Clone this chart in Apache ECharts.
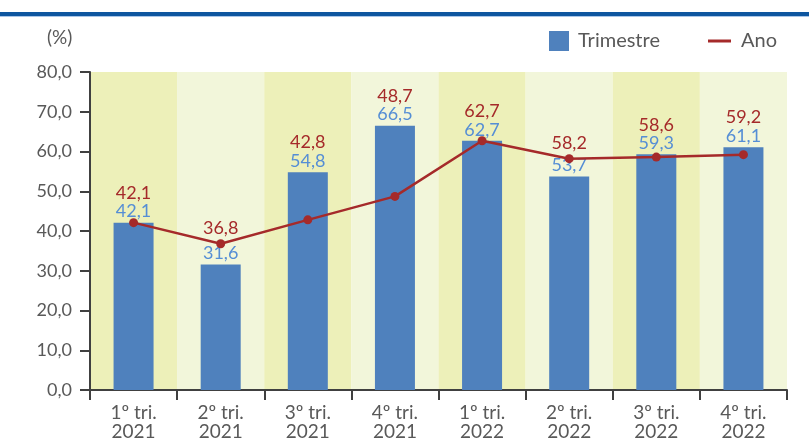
<!DOCTYPE html>
<html>
<head>
<meta charset="utf-8">
<script src="https://cdn.jsdelivr.net/npm/echarts@6/dist/echarts.min.js"></script>
<style>
  html, body { margin: 0; padding: 0; background: #fff; }
  #chart { width: 809px; height: 441px; }
</style>
</head>
<body>
<div id="chart"></div>
<script>
// 类目 / 数据
var categories = ['1º tri.\n2021', '2º tri.\n2021', '3º tri.\n2021', '4º tri.\n2021',
                  '1º tri.\n2022', '2º tri.\n2022', '3º tri.\n2022', '4º tri.\n2022'];
var trimestre = [42.1, 31.6, 54.8, 66.5, 62.7, 53.7, 59.3, 61.1];
var ano       = [42.1, 36.8, 42.8, 48.7, 62.7, 58.2, 58.6, 59.2];
var yTicks    = { min: 0, max: 80, step: 10 };

var FONT = 'Lato';
var textGrey = '#595959';
var axisGrey = '#404040';
var barBlue = '#4F81BD';
var lineRed = '#A52A2A';

function fmt(v) { return v.toFixed(1).replace('.', ','); }

// 红色标签放在柱顶或折线点中较高者之上
var anoLabelAnchor = trimestre.map(function (t, i) {
    var a = ano[i];
    return {
        value: Math.max(t, a),
        label: { distance: t >= a ? 20 : 6 }
    };
});

var chart = echarts.init(document.getElementById('chart'), null, { renderer: 'canvas' });

var option = {
    animation: false,
    textStyle: { fontFamily: FONT },
    grid: { left: 90, right: 22, top: 72, bottom: 50 },
    graphic: [
        { type: 'rect', left: 0, top: 12, shape: { width: 809, height: 4 }, style: { fill: '#0E56A0' } },
        { type: 'rect', left: 0, top: 16, shape: { width: 809, height: 1 }, style: { fill: '#A9C6E8' } },
        { type: 'text', left: 47, top: 28, style: { text: '(%)', fill: textGrey, font: '19px ' + FONT } }
    ],
    legend: [{
        data: ['Trimestre'],
        left: 544, top: 25,
        itemWidth: 20, itemHeight: 20,
        icon: 'rect',
        textStyle: { color: textGrey, fontSize: 20, fontFamily: FONT, padding: [0, 0, 0, 4], lineHeight: 22 }
    }, {
        data: ['Ano'],
        left: 703, top: 25,
        itemWidth: 23, itemHeight: 3,
        icon: 'rect',
        textStyle: { color: textGrey, fontSize: 20, fontFamily: FONT, padding: [0, 0, 0, 5], lineHeight: 22 }
    }],
    xAxis: {
        type: 'category',
        data: categories,
        boundaryGap: true,
        axisLine: { lineStyle: { color: axisGrey, width: 2 } },
        axisTick: { show: true, length: 10, alignWithLabel: false, lineStyle: { color: axisGrey, width: 2 } },
        axisLabel: { color: textGrey, fontSize: 19, fontFamily: FONT, lineHeight: 19, margin: 13, interval: 0 },
        splitLine: { show: false },
        splitArea: { show: true, areaStyle: { color: ['#EDF0B9', '#F2F6DA'] } }
    },
    yAxis: {
        type: 'value',
        min: yTicks.min, max: yTicks.max, interval: yTicks.step,
        axisLine: { show: true, lineStyle: { color: axisGrey, width: 2 } },
        axisTick: { show: true, length: 10, lineStyle: { color: axisGrey, width: 2 } },
        axisLabel: { color: textGrey, fontSize: 18, fontFamily: FONT, margin: 18, formatter: fmt },
        splitLine: { show: false }
    },
    series: [{
        name: 'Trimestre',
        type: 'bar',
        data: trimestre,
        barWidth: 40,
        itemStyle: { color: barBlue },
        label: {
            show: true, position: 'top', distance: 2,
            color: '#558ED5', fontSize: 18, fontFamily: FONT, lineHeight: 18,
            formatter: function (p) { return fmt(p.value); }
        },
        z: 2
    }, {
        name: 'Ano',
        type: 'line',
        data: ano,
        color: lineRed,
        lineStyle: { color: lineRed, width: 2.5 },
        itemStyle: { color: lineRed },
        symbol: 'circle', symbolSize: 9,
        label: { show: false },
        z: 5
    }, {
        name: 'anoLabel',
        type: 'scatter',
        data: anoLabelAnchor,
        symbol: 'circle',
        symbolSize: 1,
        itemStyle: { color: 'rgba(0,0,0,0)' },
        silent: true,
        label: {
            show: true, position: 'top', opacity: 1,
            color: lineRed, fontSize: 18, fontFamily: FONT, lineHeight: 18,
            formatter: function (p) { return fmt(ano[p.dataIndex]); }
        },
        labelLayout: { hideOverlap: false },
        z: 6
    }]
};

chart.setOption(option);
</script>
</body>
</html>
